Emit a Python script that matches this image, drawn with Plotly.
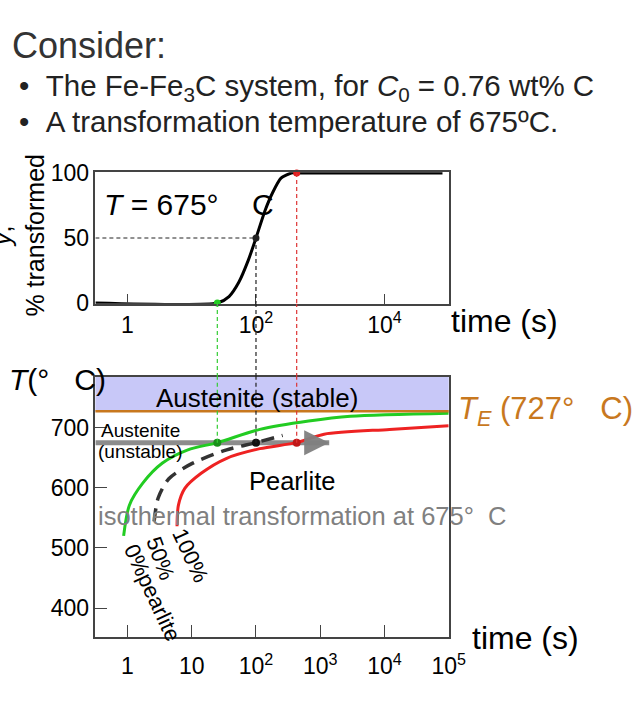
import math
import plotly.graph_objects as go

# ---------------- data ----------------
# upper panel: % transformed vs time at 675 C
top_t = [0.316, 25, 38, 54, 76, 100, 138, 182, 245, 355, 430, 80000]
top_y = [0, 0, 5, 16, 33, 50, 71, 85, 96, 100, 100, 100]

# lower panel: TTT curves (time in s, temperature in C)
start_t = [0.87, 1.07, 1.74, 3.5, 8.7, 25, 115, 660, 2950, 100000]
start_T = [520, 571, 608, 641, 663, 675, 697, 711, 719, 724]
half_t = [2.6, 3.0, 4.4, 10, 35, 100, 260]
half_T = [544, 583, 615, 640, 663, 675, 687]
finish_t = [5.9, 6.2, 7.8, 14, 35, 115, 430, 1150, 12000, 100000]
finish_T = [536, 571, 599, 624, 649, 665, 675, 689, 697, 703]

T_E = 727
T_iso = 675
mark_t = [25, 100, 430]          # 0 %, 50 %, 100 % transformed at 675 C
mark_pct = [0, 50, 100]
mark_col = ["#22cc22", "#222222", "#e02020"]
mark_col_dark = ["#1a8f1a", "#111111", "#c01818"]
arrow_t = [0.316, 1380]

top_ticks = [1, 100, 10000]
top_ticktext = ["1", "10<sup>2</sup>", "10<sup>4</sup>"]
bot_ticks = [1, 10, 100, 1000, 10000, 100000]
bot_ticktext = ["1", "10", "10<sup>2</sup>", "10<sup>3</sup>", "10<sup>4</sup>", "10<sup>5</sup>"]
top_yticks = [0, 50, 100]
bot_yticks = [400, 500, 600, 700]

# ---------------- layout geometry ----------------
W, H = 638, 702
XR = [-0.5, 5.0]
TOP_YR = [-0.5, 100.5]
BOT_YR = [352, 784]
xdom = [98 / W, 461 / W]
top_dom = [1 - 302 / H, 1 - 166 / H]
bot_dom = [1 - 647 / H, 1 - 378 / H]
t_left = 10 ** XR[0]

FONT = "Liberation Sans, Arial, sans-serif"
GREEN, RED, ORANGE = "#22cc22", "#ee2222", "#c8781e"

fig = go.Figure()

# upper panel curve
fig.add_trace(go.Scatter(x=top_t, y=top_y, xaxis="x", yaxis="y", mode="lines",
                         line=dict(color="black", width=3, shape="spline", smoothing=0.6),
                         hoverinfo="skip"))

# gray isothermal arrow shaft
fig.add_trace(go.Scatter(x=arrow_t, y=[T_iso, T_iso], xaxis="x2", yaxis="y2", mode="lines",
                         line=dict(color="rgba(128,128,128,0.9)", width=5), hoverinfo="skip"))

# TTT curves
fig.add_trace(go.Scatter(x=start_t, y=start_T, xaxis="x2", yaxis="y2", mode="lines",
                         line=dict(color=GREEN, width=3, shape="spline", smoothing=0.8),
                         hoverinfo="skip"))
fig.add_trace(go.Scatter(x=half_t, y=half_T, xaxis="x2", yaxis="y2", mode="lines",
                         line=dict(color="#333333", width=3.5, dash="13px,8px",
                                   shape="spline", smoothing=0.8), hoverinfo="skip"))
fig.add_trace(go.Scatter(x=finish_t, y=finish_T, xaxis="x2", yaxis="y2", mode="lines",
                         line=dict(color=RED, width=3, shape="spline", smoothing=0.8),
                         hoverinfo="skip"))

# marker dots
fig.add_trace(go.Scatter(x=mark_t, y=[T_iso] * 3, xaxis="x2", yaxis="y2", mode="markers",
                         marker=dict(color=mark_col_dark, size=8), cliponaxis=False,
                         hoverinfo="skip"))
fig.add_trace(go.Scatter(x=mark_t, y=mark_pct, xaxis="x", yaxis="y", mode="markers",
                         marker=dict(color=mark_col, size=7), cliponaxis=False,
                         hoverinfo="skip"))

shapes = []
# austenite stable band + eutectoid line
shapes.append(dict(type="rect", xref="x2 domain", yref="y2", x0=0, x1=1, y0=T_E, y1=BOT_YR[1],
                   fillcolor="#c8c8f8", line=dict(width=0), layer="below"))
shapes.append(dict(type="line", xref="x2 domain", yref="y2", x0=0, x1=1, y0=T_E, y1=T_E,
                   line=dict(color=ORANGE, width=2.5)))
# horizontal 50 % guide in top panel
shapes.append(dict(type="line", xref="x", yref="y", x0=t_left, x1=mark_t[1],
                   y0=50, y1=50, line=dict(color="#222", width=1, dash="4px,3px")))
# vertical guides
guide_cols = ["#33cc33", "#222222", "#dd3333"]
for t, p, c in zip(mark_t, mark_pct, guide_cols):
    ln = dict(color=c, width=1.2, dash="4px,3px")
    shapes.append(dict(type="line", xref="x", yref="y", x0=t, x1=t, y0=p, y1=TOP_YR[0], line=ln))
    shapes.append(dict(type="line", xref="x", yref="paper", x0=t, x1=t,
                       y0=bot_dom[1], y1=top_dom[0], line=ln))
    shapes.append(dict(type="line", xref="x2", yref="y2", x0=t, x1=t,
                       y0=T_iso, y1=BOT_YR[1], line=ln))

ann = []
def A(text, x, y, size, xref="paper", yref="paper", color="black", xanchor="left",
      yanchor="middle", angle=0, family=FONT, **kw):
    ann.append(dict(text=text, x=x, y=y, xref=xref, yref=yref, showarrow=False,
                    font=dict(size=size, color=color, family=family), xanchor=xanchor,
                    yanchor=yanchor, textangle=angle, borderpad=0, **kw))

# header text
A("Consider:", 11 / W, 1 - 35 / H, 36, color="#333333")
A("•\u00a0\u00a0The Fe-Fe<sub>3</sub>C system, for <i>C</i><sub>0</sub> = 0.76 wt% C",
  19 / W, 1 - 78 / H, 29.5, color="#222222")
A("•\u00a0\u00a0A transformation temperature of 675ºC.", 19 / W, 1 - 113 / H, 29.5,
  color="#222222")

# upper panel labels
A("<i>T</i> = 675°\u00a0\u00a0\u00a0\u00a0C", -0.38, 76, 30, xref="x", yref="y")
A("<i>y</i>,<br>% transformed", 19 / W, 1 - 231 / H, 25, xanchor="center", angle=-90)
A("time (s)", 462 / W, 1 - 320 / H, 32)

# lower panel labels
A("<i>T</i>(°\u00a0\u00a0\u00a0C)", 8 / W, 1 - 381 / H, 30)
A("<i>T</i><sub><i>E</i></sub> (727°\u00a0\u00a0\u00a0C)", 470 / W, 1 - 413 / H, 31, color=ORANGE)
A("time (s)", 484 / W, 1 - 648 / H, 32)
A("Austenite (stable)", math.log10(105), 749, 26, xref="x2", yref="y2", xanchor="center")
A("Austenite", -0.43, 695, 19, xref="x2", yref="y2")
A("(unstable)", -0.47, 660, 19, xref="x2", yref="y2")
A("Pearlite", math.log10(360), 612, 25.5, xref="x2", yref="y2", xanchor="center")
A("isothermal transformation at 675°\u00a0\u00a0C", 100 / W, 1 - 522 / H, 25.5, color="#808080")
A("0%pearlite", math.log10(2.4), 425, 22, xref="x2", yref="y2", xanchor="center", angle=65)
A("50%", math.log10(3.3), 483, 22, xref="x2", yref="y2", xanchor="center", angle=70)
A("100%", math.log10(9.5), 487, 22, xref="x2", yref="y2", xanchor="center", angle=65)

# arrow head
ann.append(dict(x=math.log10(arrow_t[1]), y=T_iso, ax=math.log10(arrow_t[1]) - 0.3, ay=T_iso,
                xref="x2", yref="y2", axref="x2", ayref="y2", text="", showarrow=True,
                arrowhead=2, arrowsize=1.0, arrowwidth=5, arrowcolor="rgba(128,128,128,0.95)"))

axis_common = dict(type="log", range=XR, domain=xdom, showline=True, mirror=True,
                   linecolor="#444", linewidth=1.5, showgrid=False, zeroline=False,
                   ticks="inside", tickcolor="#444", tickwidth=1.2, tickmode="array",
                   tickfont=dict(size=23, family=FONT, color="black"))

fig.update_layout(
    width=W, height=H, margin=dict(l=0, r=0, t=0, b=0),
    paper_bgcolor="white", plot_bgcolor="white", showlegend=False,
    font=dict(family=FONT, color="black"),
    xaxis=dict(axis_common, anchor="y", tickvals=top_ticks, ticktext=top_ticktext, ticklen=10),
    yaxis=dict(domain=top_dom, range=TOP_YR, anchor="x", showline=True, mirror=True,
               linecolor="#444", linewidth=1.5, showgrid=False, zeroline=False,
               tickmode="array", tickvals=top_yticks, ticks="",
               tickfont=dict(size=23, family=FONT, color="black")),
    xaxis2=dict(axis_common, anchor="y2", tickvals=bot_ticks, ticktext=bot_ticktext, ticklen=12,
                ticklabelstandoff=8),
    yaxis2=dict(domain=bot_dom, range=BOT_YR, anchor="x2", showline=True, mirror=True,
                linecolor="#444", linewidth=1.5, showgrid=False, zeroline=False,
                tickmode="array", tickvals=bot_yticks, ticks="inside", ticklen=12,
                tickcolor="#444", tickwidth=1.2,
                tickfont=dict(size=23, family=FONT, color="black")),
    shapes=shapes, annotations=ann,
)

fig.write_html("out.html")
